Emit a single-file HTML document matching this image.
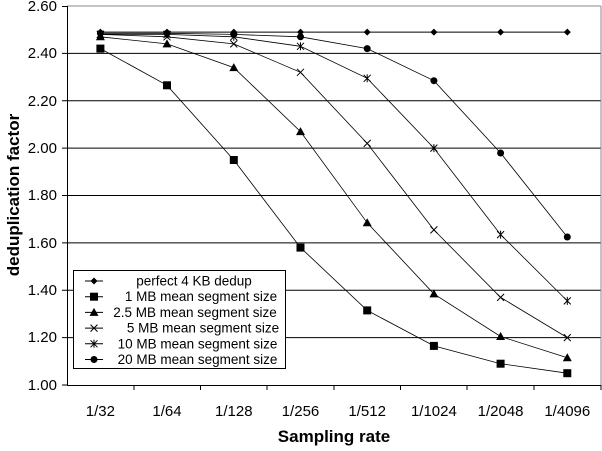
<!DOCTYPE html><html><head><style>body{margin:0;background:#fff}</style></head><body>
<svg width="602" height="446" xmlns="http://www.w3.org/2000/svg" font-family="Liberation Sans, Arial, sans-serif">
<defs>
<g id="m0"><polygon points="0,-3.5 3.5,0 0,3.5 -3.5,0" fill="#000"/></g>
<g id="m1"><rect x="-4" y="-4" width="8" height="8" fill="#000"/></g>
<g id="m2"><polygon points="0,-4.5 4.5,3.5 -4.5,3.5" fill="#000"/></g>
<g id="m3"><path d="M-3.5,-3.5L3.5,3.5M-3.5,3.5L3.5,-3.5" stroke="#000" stroke-width="1"/></g>
<g id="m4"><path d="M-3.5,-3.5L3.5,3.5M-3.5,3.5L3.5,-3.5M0,-4V4" stroke="#000" stroke-width="1"/></g>
<g id="m5"><circle r="3.5" fill="#000"/></g>
</defs>
<g stroke="#000" stroke-width="1">
<line x1="67" y1="53.4" x2="601" y2="53.4"/><line x1="67" y1="100.8" x2="601" y2="100.8"/><line x1="67" y1="148.1" x2="601" y2="148.1"/><line x1="67" y1="195.5" x2="601" y2="195.5"/><line x1="67" y1="242.9" x2="601" y2="242.9"/><line x1="67" y1="290.3" x2="601" y2="290.3"/><line x1="67" y1="337.6" x2="601" y2="337.6"/>
</g>
<line x1="67" y1="6" x2="601" y2="6" stroke="#888"/>
<line x1="601" y1="6" x2="601" y2="385" stroke="#888"/>
<g stroke="#000">
<line x1="67.5" y1="6" x2="67.5" y2="385"/><line x1="67" y1="385.5" x2="601" y2="385.5"/>
<path d="M62,6.5H67M62,53.4H67M62,100.8H67M62,148.1H67M62,195.5H67M62,242.9H67M62,290.3H67M62,337.6H67M62,385H67"/>
<path d="M134,385V390M200.5,385V390M267,385V390M334,385V390M400.5,385V390M467,385V390M534,385V390M601,385V390"/>
</g>
<g font-size="15" text-anchor="end">
<text x="57" y="11">2.60</text><text x="57" y="58">2.40</text><text x="57" y="106">2.20</text><text x="57" y="153">2.00</text><text x="57" y="200">1.80</text><text x="57" y="248">1.60</text><text x="57" y="295">1.40</text><text x="57" y="342">1.20</text><text x="57" y="390">1.00</text>
</g>
<g font-size="15" text-anchor="middle">
<text x="100.4" y="416">1/32</text><text x="167" y="416">1/64</text><text x="233.8" y="416">1/128</text><text x="300.5" y="416">1/256</text><text x="367.2" y="416">1/512</text><text x="433.9" y="416">1/1024</text><text x="500.6" y="416">1/2048</text><text x="567.3" y="416">1/4096</text>
</g>
<text x="334" y="442" font-size="17" font-weight="bold" text-anchor="middle">Sampling rate</text>
<text transform="translate(19,195) rotate(-90)" font-size="17" font-weight="bold" text-anchor="middle">deduplication factor</text>
<polyline fill="none" stroke="#000" stroke-width="1" points="100.4,32.1 167,32.1 233.8,32.1 300.5,32.1 367.2,32.1 433.9,32.1 500.6,32.1 567.3,32.1"/>
<polyline fill="none" stroke="#000" stroke-width="0.8" points="100.4,48.6 167,85.3 233.8,160 300.5,247.6 367.2,310.4 433.9,345.9 500.6,363.7 567.3,373.2"/>
<polyline fill="none" stroke="#000" stroke-width="0.8" points="100.4,36.8 167,43.9 233.8,67.6 300.5,131.6 367.2,222.8 433.9,293.9 500.6,336.5 567.3,357.8"/>
<polyline fill="none" stroke="#000" stroke-width="0.8" points="100.4,34.4 167,36.8 233.8,43.9 300.5,72.3 367.2,143.4 433.9,229.9 500.6,297.4 567.3,337.6"/>
<polyline fill="none" stroke="#000" stroke-width="0.8" points="100.4,34.4 167,34.4 233.8,36.8 300.5,46.3 367.2,78.3 433.9,148.1 500.6,234.6 567.3,300.9"/>
<polyline fill="none" stroke="#000" stroke-width="0.8" points="100.4,33.3 167,33.3 233.8,34.4 300.5,36.8 367.2,48.6 433.9,80.7 500.6,153 567.3,237"/>
<g>
<use href="#m0" x="100.4" y="32.1"/><use href="#m0" x="167" y="32.1"/><use href="#m0" x="233.8" y="32.1"/><use href="#m0" x="300.5" y="32.1"/><use href="#m0" x="367.2" y="32.1"/><use href="#m0" x="433.9" y="32.1"/><use href="#m0" x="500.6" y="32.1"/><use href="#m0" x="567.3" y="32.1"/>
<use href="#m1" x="100.4" y="48.6"/><use href="#m1" x="167" y="85.3"/><use href="#m1" x="233.8" y="160"/><use href="#m1" x="300.5" y="247.6"/><use href="#m1" x="367.2" y="310.4"/><use href="#m1" x="433.9" y="345.9"/><use href="#m1" x="500.6" y="363.7"/><use href="#m1" x="567.3" y="373.2"/>
<use href="#m2" x="100.4" y="36.8"/><use href="#m2" x="167" y="43.9"/><use href="#m2" x="233.8" y="67.6"/><use href="#m2" x="300.5" y="131.6"/><use href="#m2" x="367.2" y="222.8"/><use href="#m2" x="433.9" y="293.9"/><use href="#m2" x="500.6" y="336.5"/><use href="#m2" x="567.3" y="357.8"/>
<use href="#m3" x="100.4" y="34.4"/><use href="#m3" x="167" y="36.8"/><use href="#m3" x="233.8" y="43.9"/><use href="#m3" x="300.5" y="72.3"/><use href="#m3" x="367.2" y="143.4"/><use href="#m3" x="433.9" y="229.9"/><use href="#m3" x="500.6" y="297.4"/><use href="#m3" x="567.3" y="337.6"/>
<use href="#m4" x="100.4" y="34.4"/><use href="#m4" x="167" y="34.4"/><use href="#m4" x="233.8" y="36.8"/><use href="#m4" x="300.5" y="46.3"/><use href="#m4" x="367.2" y="78.3"/><use href="#m4" x="433.9" y="148.1"/><use href="#m4" x="500.6" y="234.6"/><use href="#m4" x="567.3" y="300.9"/>
<use href="#m5" x="100.4" y="33.3"/><use href="#m5" x="167" y="33.3"/><use href="#m5" x="233.8" y="34.4"/><use href="#m5" x="300.5" y="36.8"/><use href="#m5" x="367.2" y="48.6"/><use href="#m5" x="433.9" y="80.7"/><use href="#m5" x="500.6" y="153"/><use href="#m5" x="567.3" y="237"/>
</g>
<rect x="73.5" y="270.5" width="212" height="98" fill="#fff" stroke="#000"/>
<g stroke="#000"><path d="M85,281H103M85,296.7H103M85,312.4H103M85,328.1H103M85,343.8H103M85,359.5H103"/></g>
<use href="#m0" x="94" y="281"/><use href="#m1" x="94" y="296.7"/><use href="#m2" x="94" y="312.4"/><use href="#m3" x="94" y="328.1"/><use href="#m4" x="94" y="343.8"/><use href="#m5" x="94" y="359.5"/>
<g font-size="13.5" text-anchor="middle">
<text x="194" y="285.5">perfect 4 KB dedup</text><text x="201" y="301.2">1 MB mean segment size</text><text x="195" y="316.9">2.5 MB mean segment size</text><text x="203" y="332.6">5 MB mean segment size</text><text x="197.5" y="348.3">10 MB mean segment size</text><text x="197.5" y="364">20 MB mean segment size</text>
</g>
</svg>
</body></html>
